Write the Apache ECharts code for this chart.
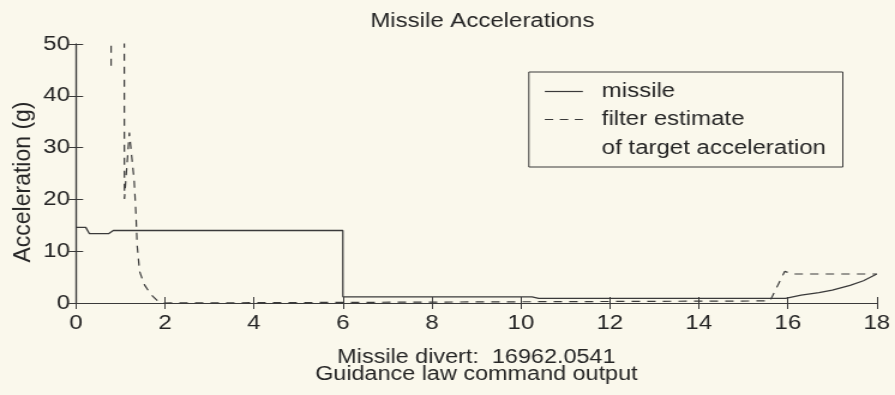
<!DOCTYPE html>
<html>
<head>
<meta charset="utf-8">
<script src="https://cdn.jsdelivr.net/npm/echarts@6/dist/echarts.min.js"></script>
<style>
  html, body { margin: 0; padding: 0; background: #faf8ec; overflow: hidden; }
  /* The figure is laid out on a narrower canvas and widened, giving the broad lettering of the printed plot */
  #chart { width: 746px; height: 395px; transform: scaleX(1.19973); transform-origin: 0 0; }
</style>
</head>
<body>
<div id="chart"></div>
<script>
// Time (s) and acceleration (g) samples for the missile command
var missileTime = [0, 0.22, 0.3, 0.74, 0.84, 5.999, 6.0, 10.25, 10.4, 15.95, 16.3, 16.7, 17.0, 17.4, 17.7, 18.0];
var missileAccel = [14.6, 14.6, 13.4, 13.4, 14.0, 14.0, 1.2, 1.2, 0.9, 0.9, 1.5, 2.0, 2.5, 3.4, 4.3, 5.6];

// Filter estimate of target acceleration (g); values above 50 run off the top
var filterTime = [0.79, 0.8, 1.08, 1.09, 1.2, 1.31, 1.35, 1.375, 1.43, 1.54, 1.69, 1.85, 1.95, 15.6, 15.93, 16.1, 18.0];
var filterAccel = [45.8, 120, 120, 20.1, 32.9, 23.4, 16.9, 11.2, 6.1, 3.5, 1.6, 0.3, 0.0, 0.4, 6.1, 5.6, 5.6];

var xTicks = { min: 0, max: 18, interval: 2 };
var yTicks = { min: 0, max: 50, interval: 10 };

var titleText = 'Missile Accelerations';
var yLabel = 'Acceleration (g)';
var xLabel = 'Missile divert:  16962.0541\nGuidance law command output';
var legendNames = ['missile', 'filter estimate', 'of target acceleration'];

function pairs(xs, ys) {
  return xs.map(function (x, i) { return [x, ys[i]]; });
}

var paper = '#faf8ec';
var ink = '#3a3a3a';
var textInk = '#262626';
var fontFam = '"Liberation Sans", Arial, Helvetica, sans-serif';

var chart = echarts.init(document.getElementById('chart'), null, { renderer: 'canvas' });

var baseAxisLine = { show: true, lineStyle: { color: ink, width: 1.2 } };
var innerTick = { show: true, inside: true, length: 6, lineStyle: { color: ink, width: 1 } };

// plot box: 63.3 .. 730.8 wide, 44 .. 303 tall (canvas units)
var plotLeft = 63.3, plotRight = 15.2, plotTop = 44, plotBottom = 92;

chart.setOption({
  backgroundColor: paper,
  animation: false,
  title: {
    text: titleText,
    left: plotLeft + (746 - plotLeft - plotRight) / 2, top: 6, textAlign: 'center',
    textStyle: { fontFamily: fontFam, fontWeight: 'normal', fontSize: 20, color: textInk }
  },
  grid: { left: plotLeft, right: plotRight, top: plotTop, bottom: plotBottom, containLabel: false },
  xAxis: [
    {
      type: 'value', min: xTicks.min, max: xTicks.max, interval: xTicks.interval,
      axisLine: baseAxisLine, axisTick: innerTick, splitLine: { show: false },
      axisLabel: { fontFamily: fontFam, fontSize: 20, color: textInk, margin: 10 },
      name: xLabel, nameLocation: 'middle', nameGap: 46,
      nameTextStyle: { fontFamily: fontFam, fontSize: 19.5, color: textInk, lineHeight: 17 }
    },
    {
      type: 'value', position: 'top', min: xTicks.min, max: xTicks.max, interval: xTicks.interval,
      axisLine: baseAxisLine, axisTick: innerTick, axisLabel: { show: false }, splitLine: { show: false }
    }
  ],
  yAxis: [
    {
      type: 'value', min: yTicks.min, max: yTicks.max, interval: yTicks.interval,
      axisLine: baseAxisLine, axisTick: innerTick, splitLine: { show: false },
      axisLabel: { fontFamily: fontFam, fontSize: 20, color: textInk, margin: 5 }
    },
    {
      type: 'value', position: 'right', min: yTicks.min, max: yTicks.max, interval: yTicks.interval,
      axisLine: baseAxisLine, axisTick: innerTick, axisLabel: { show: false }, splitLine: { show: false }
    }
  ],
  series: [
    {
      name: legendNames[0], type: 'line', data: pairs(missileTime, missileAccel),
      symbol: 'none', clip: true,
      lineStyle: { color: ink, width: 1.3, type: 'solid' }
    },
    {
      name: legendNames[1], type: 'line', data: pairs(filterTime, filterAccel),
      symbol: 'none', clip: true,
      lineStyle: { color: ink, width: 1.2, type: [7, 6] }
    }
  ],
  graphic: [
    // y-axis title, rotated; scaleY trims the widening across the glyphs
    {
      type: 'text', x: 19.5, y: 182, rotation: Math.PI / 2, scaleY: 0.9,
      style: { text: yLabel, fontFamily: fontFam, fontSize: 23, fill: textInk, align: 'center', verticalAlign: 'middle' }
    },
    // legend box
    {
      type: 'group', x: 440.8, y: 72,
      children: [
        { type: 'rect', shape: { x: 0, y: 0, width: 261.7, height: 95 },
          style: { fill: paper, stroke: ink, lineWidth: 1 } },
        { type: 'line', shape: { x1: 13.3, y1: 19.5, x2: 45, y2: 19.5 },
          style: { stroke: ink, lineWidth: 1.2 } },
        { type: 'line', shape: { x1: 13.3, y1: 47.5, x2: 45, y2: 47.5 },
          style: { stroke: ink, lineWidth: 1.2, lineDash: [7, 5.5] } },
        { type: 'text', x: 60.8, y: 19, style: { text: legendNames[0], fontFamily: fontFam, fontSize: 20, fill: textInk, verticalAlign: 'middle' } },
        { type: 'text', x: 60.8, y: 47, style: { text: legendNames[1], fontFamily: fontFam, fontSize: 20, fill: textInk, verticalAlign: 'middle' } },
        { type: 'text', x: 60.8, y: 76, style: { text: legendNames[2], fontFamily: fontFam, fontSize: 20, fill: textInk, verticalAlign: 'middle' } }
      ]
    }
  ]
});
</script>
</body>
</html>
